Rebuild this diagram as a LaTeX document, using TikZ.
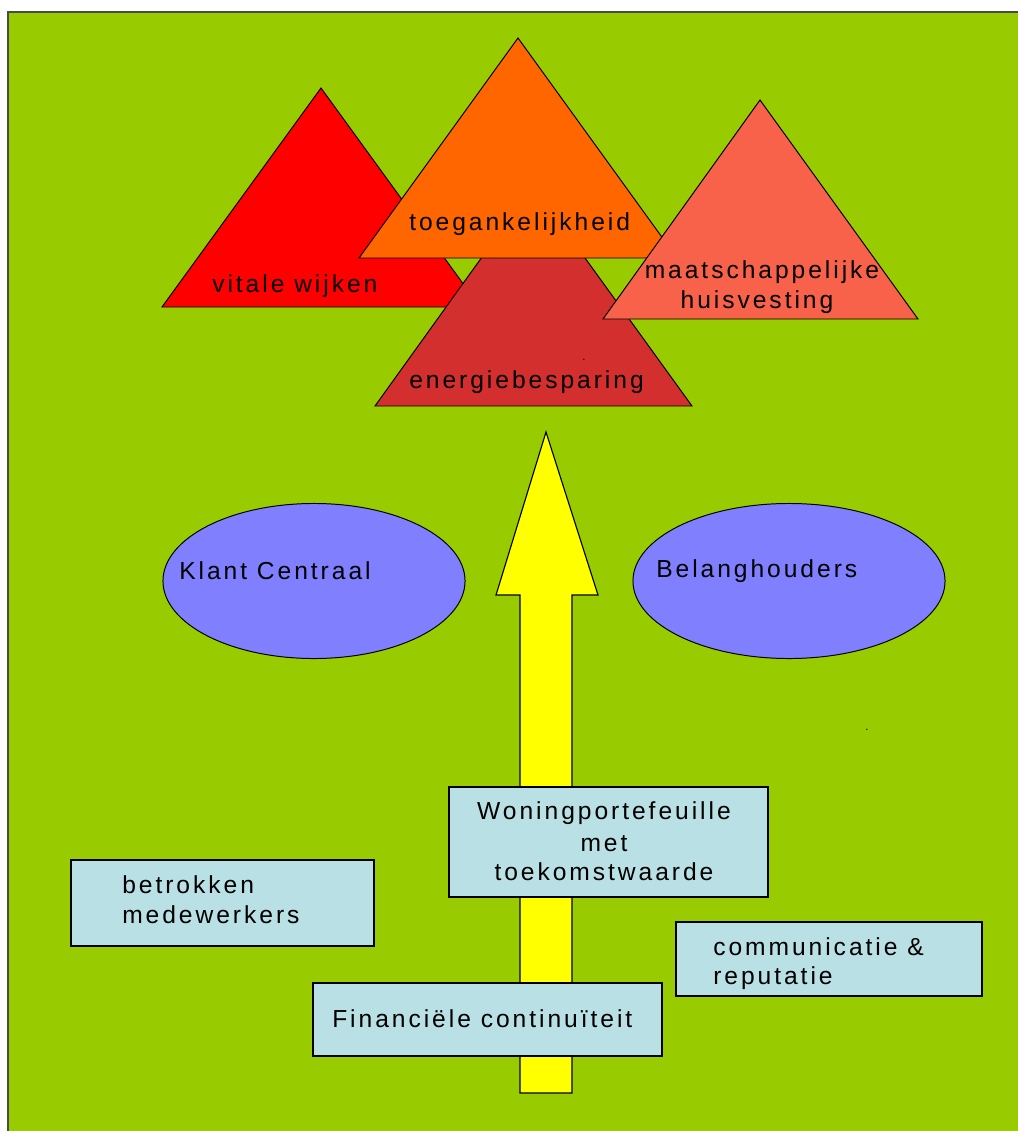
\documentclass[tikz,border=0pt]{standalone}
\usepackage{fontspec}
\setmainfont{Liberation Sans}[LetterSpace=12]
\usetikzlibrary{shapes.geometric}
\definecolor{bggreen}{HTML}{99CC00}
\definecolor{framegray}{HTML}{4A4A4A}
\definecolor{vitalred}{HTML}{FF0000}
\definecolor{toegorange}{HTML}{FF6600}
\definecolor{energred}{HTML}{D32F2F}
\definecolor{huissalmon}{HTML}{F8624A}
\definecolor{ellblue}{HTML}{8080FF}
\definecolor{boxblue}{HTML}{B9E0E4}
\definecolor{arrowyellow}{HTML}{FFFF00}
\begin{document}
\begin{tikzpicture}[x=0.025cm, y=-0.025cm,
        lbl/.style={inner sep=0pt, font=\fontsize{17.5}{21.5}\selectfont},
        tri/.style={draw=black, line width=0.7pt, line join=miter},
        ell/.style={ellipse, draw=black, line width=0.7pt, fill=ellblue, minimum height=3.875cm},
        box/.style={rectangle, draw=black, line width=0.8pt, fill=boxblue, inner sep=0pt}]
            \useasboundingbox (0,0) rectangle (1018,1131);
            \filldraw[fill=bggreen, draw=framegray, line width=1.6pt] (8,12) rectangle (1040,1160);

            \filldraw[tri, fill=vitalred] (162,307) -- (321,88) -- (480,307) -- cycle;
            \filldraw[tri, fill=energred] (375,406) -- (533,186) -- (692,406) -- cycle;
            \filldraw[tri, fill=toegorange] (359,258) -- (518,38) -- (677,258) -- cycle;
            \filldraw[tri, fill=huissalmon] (603,319) -- (760,100) -- (918,319) -- cycle;
            \node[lbl, anchor=base west] (V) at (212,292){vitale wijken};
            \node[lbl, anchor=base west] (T) at (409,230){toegankelijkheid};
            \node[lbl, anchor=base west] (E) at (409,388){energiebesparing};
            \node[lbl, anchor=base] (H1) at (762,278){maatschappelijke};
            \node[lbl, anchor=base] (H2) at (757,308){huisvesting};
            \node[inner sep=0pt, font=\fontsize{8}{9}\selectfont] (D1) at (584,360){.};

            \filldraw[fill=arrowyellow, draw=black, line width=0.8pt] (520,1093) -- (520,595) -- (496,595) -- (546,432) -- (598,595) -- (572,595) -- (572,1093) -- cycle;

            \node[ell, minimum width=7.55cm] (K) at (314,581){};
            \node[ell, minimum width=7.8cm] (B) at (789,581){};
            \node[lbl, anchor=base west] (K1) at (179,579){Klant Centraal};
            \node[lbl, anchor=base west] (B1) at (656,577){Belanghouders};
            \node[inner sep=0pt, font=\fontsize{8}{9}\selectfont] (D2) at (867,730){.};

            \node[box, minimum width=7.575cm, minimum height=2.15cm] (M) at (222.5,903){};
            \node[box, minimum width=7.975cm, minimum height=2.75cm] (W) at (608.5,842){};
            \node[box, minimum width=7.65cm, minimum height=1.85cm] (C) at (829,959){};
            \node[box, minimum width=8.725cm, minimum height=1.825cm] (F) at (487.5,1019.5){};
            \node[lbl, anchor=base west] (M1) at (122,893){betrokken};
            \node[lbl, anchor=base west] (M2) at (122,923){medewerkers};
            \node[lbl, anchor=base] (W1) at (604,819){Woningportefeuille};
            \node[lbl, anchor=base] (W2) at (604,851){met};
            \node[lbl, anchor=base] (W3) at (604,880){toekomstwaarde};
            \node[lbl, anchor=base west] (C1) at (713,955){communicatie \&};
            \node[lbl, anchor=base west] (C2) at (713,984){reputatie};
            \node[lbl, anchor=base west] (F1) at (332,1027){Financiële continuïteit};
        \end{tikzpicture}
\end{document}
